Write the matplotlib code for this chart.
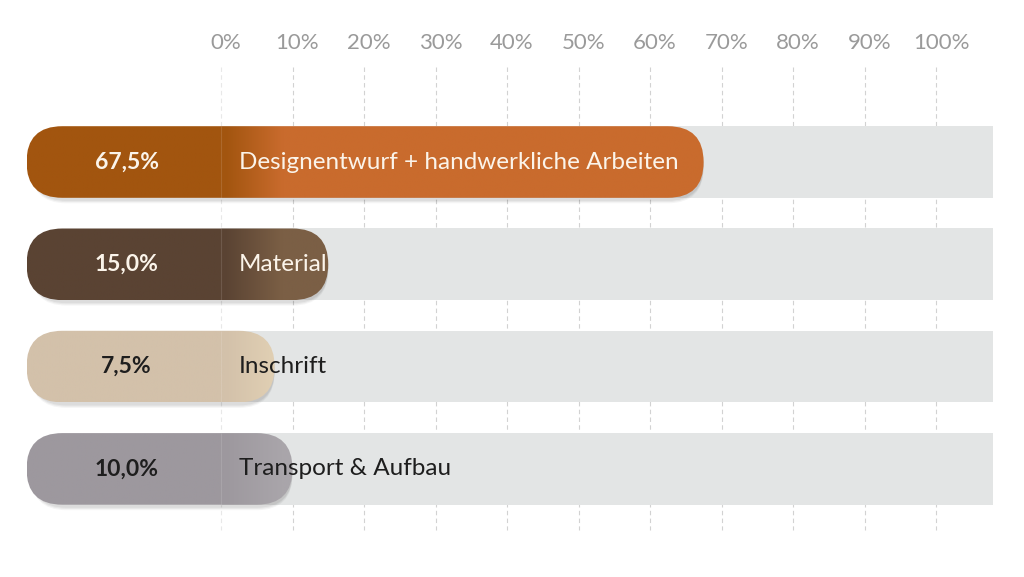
import numpy as np
import matplotlib
matplotlib.use("Agg")
import matplotlib.pyplot as plt
from matplotlib.patches import FancyBboxPatch, Rectangle
from matplotlib.colors import to_rgb

categories = ["Designentwurf + handwerkliche Arbeiten", "Material", "Inschrift", "Transport & Aufbau"]
values = [67.5, 15.0, 7.5, 10.0]
value_labels = ["67,5%", "15,0%", "7,5%", "10,0%"]
tick_values = [0, 10, 20, 30, 40, 50, 60, 70, 80, 90, 100]
tick_labels = ["0%", "10%", "20%", "30%", "40%", "50%", "60%", "70%", "80%", "90%", "100%"]

dark_colors = ["#a2550f", "#5a4333", "#d3c1aa", "#9d989e"]
light_colors = ["#c96b2d", "#7b5f45", "#e3d2b5", "#a9a5aa"]
text_colors = ["#fbf4ea", "#fbf4ea", "#1e1e1e", "#1e1e1e"]

plt.rcParams['font.family'] = ['Lato', 'DejaVu Sans']

W, H = 1024, 577
fig = plt.figure(figsize=(W / 100, H / 100), dpi=100)
ax = fig.add_axes([0, 0, 1, 1])

# pixel geometry of the reference
x0_px, px_per_pct = 221, 7.15
y0_px, px_per_row = 162, 102.3
ax.set_xlim(-x0_px / px_per_pct, (W - x0_px) / px_per_pct)
ax.set_ylim((H - y0_px) / px_per_row, -y0_px / px_per_row)
ax.axis("off")

bar_h = 0.70
left = -27.2
track_right = 108.0
aspect = px_per_pct / px_per_row  # y units per x unit (same pixels)
radius = bar_h / 2 / aspect

# grid + top labels
for t, lab in zip(tick_values, tick_labels):
    ax.vlines(t, -0.93, 3.6, colors="#d2d2d2", linewidth=0.8,
              linestyles=(0, (4, 3)), zorder=0, alpha=0.5 if t == 0 else 1)
    ax.text(t + 0.7, -1.163, lab, ha="center", va="center",
            fontsize=16, color="#9a9a9a")

for i, (cat, v) in enumerate(zip(categories, values)):
    # grey track
    ax.add_patch(Rectangle((0, i - bar_h / 2), track_right, bar_h,
                           facecolor="#e3e5e5", edgecolor="none", zorder=1))

    # soft shadow
    for k, a in enumerate([0.05, 0.05, 0.04]):
        sh = FancyBboxPatch((left + 0.6, i - bar_h / 2 + 0.03 + 0.012 * k),
                            v - left - 0.6, bar_h,
                            boxstyle=f"round,pad=0,rounding_size={radius}",
                            mutation_aspect=aspect, facecolor="#000000",
                            edgecolor="none", alpha=a, zorder=2)
        ax.add_patch(sh)

    bar = FancyBboxPatch((left, i - bar_h / 2), v - left, bar_h,
                         boxstyle=f"round,pad=0,rounding_size={radius}",
                         mutation_aspect=aspect, facecolor="none",
                         edgecolor="none", zorder=3)
    ax.add_patch(bar)

    # horizontal gradient: dark cap, then blend to lighter shade
    xs = np.linspace(left, v, 400)
    g = np.clip((xs - 0.5) / 8.0, 0, 1)
    c0, c1 = np.array(to_rgb(dark_colors[i])), np.array(to_rgb(light_colors[i]))
    grad = c0[None, :] * (1 - g[:, None]) + c1[None, :] * g[:, None]
    img = ax.imshow(grad[None, :, :], extent=(left, v, i + bar_h / 2, i - bar_h / 2),
                    aspect="auto", zorder=3, interpolation="bilinear")
    img.set_clip_path(bar)
    ax.vlines(0, i - bar_h / 2, i + bar_h / 2, colors="#ffffff", linewidth=0.8,
              alpha=0.12, zorder=4)

    ax.text(-13.2, i, value_labels[i], ha="center", va="center", fontsize=16.5,
            fontweight="bold", color=text_colors[i], zorder=5)
    ax.text(2.5, i, cat, ha="left", va="center", fontsize=17.5,
            color=text_colors[i], zorder=5)

ax.set_xlim(-x0_px / px_per_pct, (W - x0_px) / px_per_pct)
ax.set_ylim((H - y0_px) / px_per_row, -y0_px / px_per_row)

fig.savefig("out.png", dpi=100, facecolor="white")
